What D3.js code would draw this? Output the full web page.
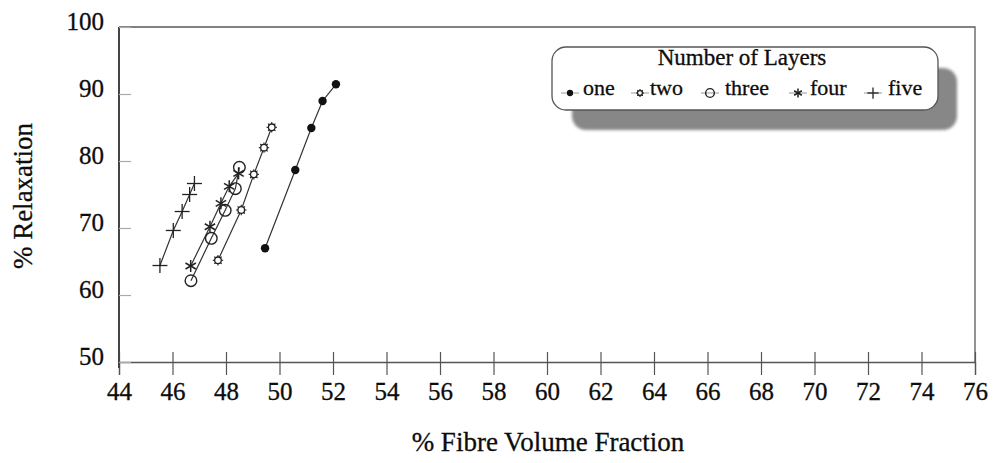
<!DOCTYPE html>
<html>
<head>
<meta charset="utf-8">
<script src="https://cdn.jsdelivr.net/npm/d3@7"></script>
<style>
  html, body { margin: 0; padding: 0; background: #ffffff; }
  svg { display: block; }
  text { font-family: "Liberation Serif", "DejaVu Serif", serif; fill: #0d0d0d; stroke: #0d0d0d; stroke-width: 0.3px; }
</style>
</head>
<body>
<svg id="chart" width="995" height="463"></svg>
<script>
// Relaxation against fibre volume fraction, one series per layer count
const seriesNames = ["one", "two", "three", "four", "five"];
const oneX   = [49.46, 50.59, 51.19, 51.61, 52.11];
const oneY   = [66.97, 78.66, 84.93, 88.96, 91.45];
const twoX   = [47.70, 48.57, 49.04, 49.42, 49.71];
const twoY   = [65.18, 72.69, 78.01, 81.99, 85.03];
const threeX = [46.69, 47.45, 47.97, 48.35, 48.50];
const threeY = [62.13, 68.46, 72.64, 75.87, 79.06];
const fourX  = [46.68, 47.40, 47.81, 48.12, 48.47];
const fourY  = [64.33, 70.19, 73.69, 76.22, 78.16];
const fiveX  = [45.53, 46.03, 46.36, 46.64, 46.82];
const fiveY  = [64.40, 69.63, 72.46, 75.00, 76.64];

const xTicks = [44, 46, 48, 50, 52, 54, 56, 58, 60, 62, 64, 66, 68, 70, 72, 74, 76];
const yTicks = [50, 60, 70, 80, 90, 100];

const legendTitle = "Number of Layers";
const xTitle = "% Fibre Volume Fraction";
const yTitle = "% Relaxation";

const seriesX = [oneX, twoX, threeX, fourX, fiveX];
const seriesY = [oneY, twoY, threeY, fourY, fiveY];

const svg = d3.select("#chart");
const plotLeft = 119, plotRight = 975, plotTop = 27, plotBottom = 362;

const x = d3.scaleLinear().domain([44, 76]).range([plotLeft, plotRight]);
const y = d3.scaleLinear().domain([50, 100]).range([plotBottom, plotTop]);

// plot frame (top and right edges)
svg.append("path")
  .attr("d", `M${plotLeft},${plotTop}H${plotRight}V${plotBottom}`)
  .attr("fill", "none").attr("stroke", "#5a5a5a").attr("stroke-width", 1.3);

// x axis with ticks crossing the baseline
const xAxis = svg.append("g").attr("transform", `translate(0,${plotBottom})`)
  .call(d3.axisBottom(x).tickValues(xTicks).tickSize(13).tickFormat(d3.format("d")));
xAxis.select(".domain").attr("stroke", "#555").attr("stroke-width", 1.3);
xAxis.selectAll(".tick line").attr("y1", -10).attr("stroke", "#555").attr("stroke-width", 1.2);
xAxis.selectAll(".tick text").attr("y", 20).attr("dy", "0.71em")
  .attr("font-size", 25).attr("font-family", "Liberation Serif").attr("fill", "#0d0d0d");

// y axis with short inward ticks
const yAxis = svg.append("g").attr("transform", `translate(${plotLeft},0)`)
  .call(d3.axisLeft(y).tickValues(yTicks).tickSize(-12).tickPadding(15).tickFormat(d3.format("d")));
yAxis.select(".domain").attr("d", `M0,${plotTop}V${plotBottom + 6}`).attr("stroke", "#444").attr("stroke-width", 2);
yAxis.selectAll(".tick line").attr("stroke", "#aaa").attr("stroke-width", 1.2);
yAxis.selectAll(".tick text").attr("y", -6)
  .attr("font-size", 25).attr("font-family", "Liberation Serif").attr("fill", "#0d0d0d");

// marker shapes for each layer count
function drawMarker(g, k, cx, cy, scale) {
  const s = scale || 1;
  const stroke = "#222";
  if (k === 0) {
    g.append("circle").attr("cx", cx).attr("cy", cy).attr("r", 4.2 * s).attr("fill", "#111");
  } else if (k === 1) {
    for (let a = 0; a < 4; a++) {
      const ang = a * Math.PI / 4;
      const r = 5.2 * s;
      g.append("line")
        .attr("x1", cx - r * Math.cos(ang)).attr("y1", cy - r * Math.sin(ang))
        .attr("x2", cx + r * Math.cos(ang)).attr("y2", cy + r * Math.sin(ang))
        .attr("stroke", stroke).attr("stroke-width", 1.1);
    }
    g.append("circle").attr("cx", cx).attr("cy", cy).attr("r", 3.3 * s)
      .attr("fill", "#fff").attr("stroke", stroke).attr("stroke-width", 1.3);
  } else if (k === 2) {
    g.append("circle").attr("cx", cx).attr("cy", cy).attr("r", 5.8 * s)
      .attr("fill", "none").attr("stroke", stroke).attr("stroke-width", 1.4);
  } else if (k === 3) {
    const r = 6 * s;
    for (let a = 0; a < 3; a++) {
      const ang = Math.PI / 2 + a * Math.PI / 3;
      g.append("line")
        .attr("x1", cx - r * Math.cos(ang)).attr("y1", cy - r * Math.sin(ang))
        .attr("x2", cx + r * Math.cos(ang)).attr("y2", cy + r * Math.sin(ang))
        .attr("stroke", stroke).attr("stroke-width", 1.5);
    }
  } else {
    const r = 7.5 * s;
    g.append("line").attr("x1", cx - r).attr("x2", cx + r).attr("y1", cy).attr("y2", cy)
      .attr("stroke", stroke).attr("stroke-width", 1.3);
    g.append("line").attr("x1", cx).attr("x2", cx).attr("y1", cy - r).attr("y2", cy + r)
      .attr("stroke", stroke).attr("stroke-width", 1.3);
  }
}

const line = d3.line().x(d => x(d[0])).y(d => y(d[1]));
const plot = svg.append("g");
seriesNames.forEach((name, k) => {
  const pts = seriesX[k].map((v, i) => [v, seriesY[k][i]]);
  plot.append("path").attr("d", line(pts)).attr("fill", "none")
    .attr("stroke", "#333").attr("stroke-width", 1.2);
});
seriesNames.forEach((name, k) => {
  const g = plot.append("g");
  seriesX[k].forEach((v, i) => drawMarker(g, k, x(v), y(seriesY[k][i])));
});

// axis titles
svg.append("text").attr("x", 548).attr("y", 451).attr("text-anchor", "middle")
  .attr("font-size", 27).text(xTitle);
svg.append("text").attr("transform", "translate(32,196) rotate(-90)").attr("text-anchor", "middle")
  .attr("font-size", 27).text(yTitle);

// legend box with drop shadow
const defs = svg.append("defs");
defs.append("filter").attr("id", "soft").append("feGaussianBlur").attr("stdDeviation", 1.5);
const lg = svg.append("g");
lg.append("rect").attr("x", 572).attr("y", 68).attr("width", 385).attr("height", 62)
  .attr("rx", 14).attr("fill", "#878787").attr("filter", "url(#soft)");
lg.append("rect").attr("x", 552).attr("y", 47).attr("width", 386).attr("height", 63)
  .attr("rx", 14).attr("fill", "#fff").attr("stroke", "#555").attr("stroke-width", 1.3);
lg.append("text").attr("x", 742).attr("y", 65).attr("text-anchor", "middle")
  .attr("font-size", 23).text(legendTitle);

const itemMarkerX = [570, 640, 710, 798, 873];
const itemTextX = [583, 650, 725, 810, 888];
seriesNames.forEach((name, k) => {
  const mx = itemMarkerX[k];
  lg.append("line").attr("x1", mx - 9).attr("x2", mx + 9).attr("y1", 93).attr("y2", 93)
    .attr("stroke", "#999").attr("stroke-width", 1);
  drawMarker(lg, k, mx, 93, 0.75);
  lg.append("text").attr("x", itemTextX[k]).attr("y", 95).attr("font-size", 22).text(name);
});
</script>
</body>
</html>
